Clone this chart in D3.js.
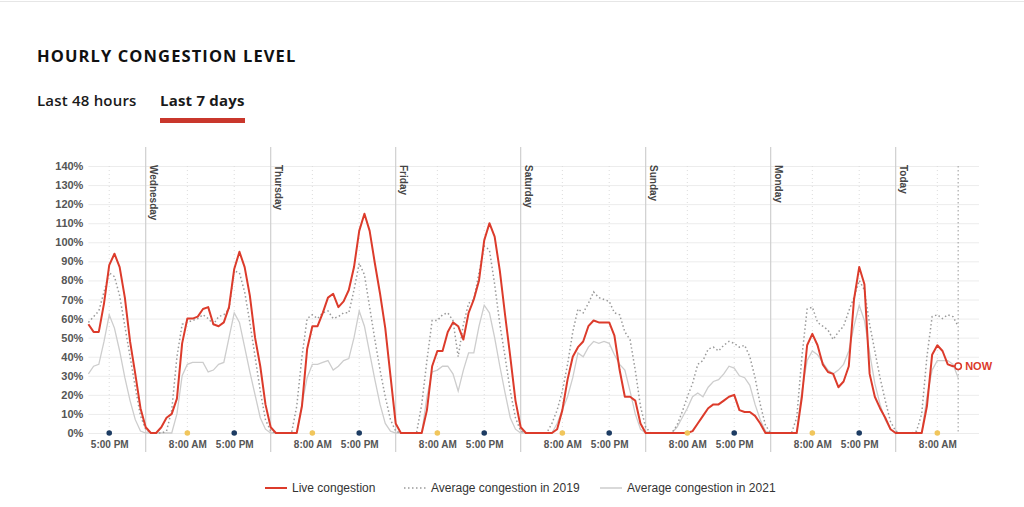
<!DOCTYPE html>
<html>
<head>
<meta charset="utf-8">
<script src="https://cdn.jsdelivr.net/npm/d3@7"></script>
<style>
  html, body { margin: 0; padding: 0; background: #fff; }
  svg { display: block; }
</style>
</head>
<body>
<svg id="chart" width="1024" height="507"></svg>
<script>
// ---- DATA (hourly, starting Tuesday 13:00, ending "now" = Today 12:00) ----
const startHour = 13;               // first point is 13:00 on the first (unnamed) day
const totalHours = 171;             // x domain: Tuesday 13:00 -> Today 16:00
const nowIndex = 167;               // Today 12:00
const dayLabels = ["Wednesday", "Thursday", "Friday", "Saturday", "Sunday", "Monday", "Today"];
const yTicks = [0, 10, 20, 30, 40, 50, 60, 70, 80, 90, 100, 110, 120, 130, 140];
const tickHours = [8, 17];          // 8:00 AM, 5:00 PM
const tickLabels = {8: "8:00 AM", 17: "5:00 PM"};
const seriesNames = ["Live congestion", "Average congestion in 2019", "Average congestion in 2021"];

const liveCongestion = [
  57,53,53,68,88,94,87,71,48,31,13,                               // Tue 13-23
  3,0,0,3,8,10,18,47,60,60,61,65,66,57,56,58,66,86,95,87,72,50,35,15, // Wed
  3,0,0,0,0,0,14,44,56,56,63,71,73,66,69,75,87,106,115,106,89,73,55,30, // Thu
  5,0,0,0,0,0,12,35,43,43,53,58,56,49,63,70,80,101,110,103,85,62,40,17, // Fri
  3,0,0,0,0,0,0,2,12,28,40,45,48,56,59,58,58,58,51,33,19,19,17,5,    // Sat
  0,0,0,0,0,0,0,0,0,1,5,9,13,15,15,17,19,20,12,11,11,9,5,0,          // Sun
  0,0,0,0,0,0,19,46,52,46,36,32,31,24,27,35,70,87,78,31,19,13,8,2,   // Mon
  0,0,0,0,0,0,14,41,46,43,36,35,35                                   // Today 0-12
];
const avg2019 = [
  58,61,64,74,84,82,72,56,40,24,9,
  2,0,0,0,1,12,40,57,58,59,60,62,60,57,61,62,65,85,84,74,58,40,22,7,
  1,0,0,0,0,14,40,60,62,60,63,64,60,61,63,63,75,89,83,66,49,33,19,7,
  1,0,0,0,0,15,38,59,59,62,63,59,40,57,68,70,84,98,96,78,57,40,22,8,
  1,0,0,0,0,0,5,12,22,36,53,65,63,68,74,71,70,69,63,62,53,49,33,14,
  3,0,0,0,0,0,4,11,19,26,36,38,44,45,43,46,48,47,45,46,40,29,15,4,
  0,0,0,0,0,8,40,65,66,58,56,54,49,53,56,64,71,80,75,57,43,29,17,6,
  1,0,0,0,1,10,40,61,62,60,62,61,56
];
const avg2021 = [
  31,35,36,48,62,55,43,29,17,7,1,
  0,0,0,0,0,0,10,30,36,37,37,37,32,33,36,37,50,63,58,45,32,20,8,2,
  0,0,0,0,0,0,15,29,36,36,37,38,33,35,38,39,50,64,56,42,28,15,5,1,
  0,0,0,0,0,0,19,32,33,35,35,31,22,33,42,42,56,67,63,50,35,21,8,2,
  0,0,0,0,0,0,0,5,12,19,29,42,40,45,48,47,48,47,41,36,33,22,10,2,
  0,0,0,0,0,0,3,8,13,19,21,19,24,27,28,31,35,34,30,29,25,15,7,1,
  0,0,0,0,0,0,22,38,43,41,37,33,31,33,36,43,56,67,59,42,26,15,7,2,
  0,0,0,0,0,0,19,33,38,38,38,36,29
];

// ---- STYLE ----
const RED = "#dc3b2b", NAVY = "#1d3c63", GOLD = "#f1c65c";
const svg = d3.select("#chart");

svg.append("line").attr("x1", 0).attr("x2", 1024).attr("y1", 1.5).attr("y2", 1.5)
  .attr("stroke", "#e6e6e6").attr("stroke-width", 1);

// Title and tabs
svg.append("text").attr("x", 37).attr("y", 62)
  .attr("font-family", "'Open Sans', sans-serif").attr("font-weight", 700)
  .attr("font-size", 16.5).attr("letter-spacing", 1.1).attr("fill", "#111")
  .text("HOURLY CONGESTION LEVEL");
svg.append("text").attr("x", 37).attr("y", 106)
  .attr("font-family", "'Open Sans', sans-serif").attr("font-weight", 600)
  .attr("font-size", 15).attr("letter-spacing", 0.2).attr("fill", "#1a1a1a").text("Last 48 hours");
svg.append("text").attr("x", 160).attr("y", 106)
  .attr("font-family", "'Open Sans', sans-serif").attr("font-weight", 700)
  .attr("font-size", 15).attr("letter-spacing", 0.2).attr("fill", "#1a1a1a").text("Last 7 days");
svg.append("rect").attr("x", 160).attr("y", 118).attr("width", 85).attr("height", 5)
  .attr("fill", "#c9372c");

// Scales
const x = d3.scaleLinear().domain([0, totalHours]).range([88.4, 979]);
const y = d3.scaleLinear().domain([0, 140]).range([433, 166]);

// Horizontal gridlines + y labels via axis
const yAxis = d3.axisLeft(y).tickValues(yTicks).tickFormat(d => d + "%")
  .tickSize(-(x.range()[1] - x.range()[0])).tickPadding(5);
const gy = svg.append("g").attr("transform", `translate(${x.range()[0]},0)`).call(yAxis);
gy.select(".domain").remove();
gy.selectAll(".tick line").attr("stroke", "#ececec").attr("stroke-width", 1);
gy.selectAll(".tick text").attr("font-family", "'Liberation Sans', Arial, sans-serif")
  .attr("font-weight", 700).attr("font-size", 11).attr("fill", "#555");

// Vertical dotted gridlines at 8 AM / 5 PM and tick labels
const tickIdx = [];
for (let i = 0; i <= totalHours; i++) {
  const h = (startHour + i) % 24;
  if (tickHours.includes(h) && i <= nowIndex) tickIdx.push(i);
}
svg.append("g").selectAll("line").data(tickIdx).join("line")
  .attr("x1", d => x(d)).attr("x2", d => x(d)).attr("y1", y(140)).attr("y2", y(0))
  .attr("stroke", "#dcdcdc").attr("stroke-width", 1).attr("stroke-dasharray", "1,3");

const xAxis = d3.axisBottom(x).tickValues(tickIdx)
  .tickFormat(d => tickLabels[(startHour + d) % 24]).tickSize(0).tickPadding(8);
const gx = svg.append("g").attr("transform", `translate(0,${y(0)})`).call(xAxis);
gx.select(".domain").remove();
gx.selectAll(".tick text").attr("font-family", "'Liberation Sans', Arial, sans-serif")
  .attr("font-weight", 700).attr("font-size", 10).attr("fill", "#555");

// Day separators and labels
const dayStarts = dayLabels.map((d, i) => ({name: d, idx: (24 - startHour) + 24 * i}));
svg.append("g").selectAll("line").data(dayStarts).join("line")
  .attr("x1", d => x(d.idx)).attr("x2", d => x(d.idx)).attr("y1", 147).attr("y2", 452)
  .attr("stroke", "#cfcfcf").attr("stroke-width", 1.2);
svg.append("g").selectAll("text").data(dayStarts).join("text")
  .attr("transform", d => `translate(${x(d.idx) + 3},${165}) rotate(90)`)
  .attr("font-family", "'Liberation Sans', Arial, sans-serif").attr("font-weight", 700)
  .attr("font-size", 10).attr("fill", "#444").attr("dy", "-0.1em")
  .text(d => d.name);

// "Now" vertical dotted line
svg.append("line").attr("x1", x(nowIndex)).attr("x2", x(nowIndex))
  .attr("y1", y(140)).attr("y2", y(0))
  .attr("stroke", "#aaa").attr("stroke-width", 1.2).attr("stroke-dasharray", "1.5,2.5");

// Lines
const line = d3.line().x((d, i) => x(i)).y(d => y(d));
svg.append("path").datum(avg2021).attr("d", line).attr("fill", "none")
  .attr("stroke", "#cdcdcd").attr("stroke-width", 1.3);
svg.append("path").datum(avg2019).attr("d", line).attr("fill", "none")
  .attr("stroke", "#9a9a9a").attr("stroke-width", 1.5).attr("stroke-dasharray", "1.5,2.5");
svg.append("path").datum(liveCongestion).attr("d", line).attr("fill", "none")
  .attr("stroke", RED).attr("stroke-width", 2).attr("stroke-linejoin", "round");

// Dots at tick positions
svg.append("g").selectAll("circle").data(tickIdx).join("circle")
  .attr("cx", d => x(d)).attr("cy", y(0)).attr("r", 2.8)
  .attr("fill", d => ((startHour + d) % 24) === 8 ? GOLD : NAVY);

// NOW marker
svg.append("circle").attr("cx", x(nowIndex)).attr("cy", y(liveCongestion[nowIndex]))
  .attr("r", 3.2).attr("fill", "#fff").attr("stroke", RED).attr("stroke-width", 1.5);
svg.append("text").attr("x", x(nowIndex) + 7).attr("y", y(liveCongestion[nowIndex]) + 4)
  .attr("font-family", "'Liberation Sans', Arial, sans-serif").attr("font-weight", 700)
  .attr("font-size", 11).attr("fill", RED).text("NOW");

// Legend
const legend = [
  {name: seriesNames[0], x: 265, stroke: RED, w: 2, dash: null},
  {name: seriesNames[1], x: 404, stroke: "#9a9a9a", w: 1.5, dash: "1.5,2.5"},
  {name: seriesNames[2], x: 600, stroke: "#cdcdcd", w: 1.5, dash: null}
];
const lg = svg.append("g").selectAll("g").data(legend).join("g")
  .attr("transform", d => `translate(${d.x},488)`);
lg.append("line").attr("x1", 0).attr("x2", 22).attr("y1", 0).attr("y2", 0)
  .attr("stroke", d => d.stroke).attr("stroke-width", d => d.w)
  .attr("stroke-dasharray", d => d.dash);
lg.append("text").attr("x", 27).attr("y", 4.3)
  .attr("font-family", "'Liberation Sans', Arial, sans-serif").attr("font-size", 12)
  .attr("fill", "#333").text(d => d.name);
</script>
</body>
</html>
